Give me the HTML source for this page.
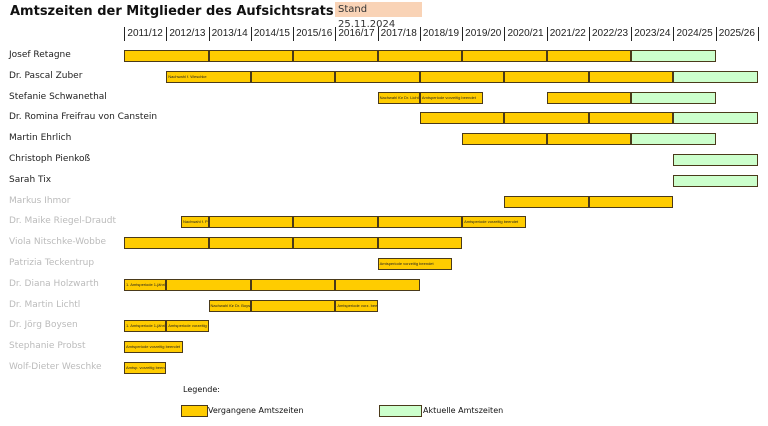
<!DOCTYPE html>
<html><head><meta charset="utf-8">
<style>
body{margin:0;background:#fff;font-family:"Liberation Sans",Verdana,sans-serif;}
#root{position:relative;width:768px;height:426px;overflow:hidden;}
.title{position:absolute;left:10px;top:4px;font-size:13px;font-weight:bold;color:#111;font-family:"DejaVu Sans","Liberation Sans",sans-serif;}
.stand{position:absolute;left:335px;top:2px;width:87px;height:15px;background:#f9d3b6;font-size:10px;line-height:15px;padding-left:3px;box-sizing:border-box;color:#333;font-family:"DejaVu Sans",sans-serif;}
.yr{position:absolute;top:27px;font-size:10px;color:#222;text-align:center;height:14px;line-height:14px;}
.sep{position:absolute;top:27px;width:1px;height:14px;background:#222;}
.name{position:absolute;left:9px;font-size:9px;font-family:"DejaVu Sans",sans-serif;white-space:nowrap;}
.seg{position:absolute;height:10px;border:1px solid #4a3a1a;box-sizing:content-box;font-size:4px;line-height:10px;overflow:hidden;white-space:nowrap;color:#222;padding-left:1px;}
.leg{position:absolute;font-size:8px;font-family:"DejaVu Sans",sans-serif;color:#111;}
</style></head><body>
<div id="root">
<div class="title">Amtszeiten der Mitglieder des Aufsichtsrats</div>
<div class="stand">Stand 25.11.2024</div>
<div class="leg" style="left:183px;top:385px">Legende:</div>
<div class="seg" style="left:181px;top:405px;width:24px;background:#ffcc00"></div>
<div class="leg" style="left:208px;top:406px">Vergangene Amtszeiten</div>
<div class="seg" style="left:379px;top:405px;width:40px;background:#ccffcc"></div>
<div class="leg" style="left:423px;top:406px">Aktuelle Amtszeiten</div>
</div>
<script>
const years=["2011/12","2012/13","2013/14","2014/15","2015/16","2016/17","2017/18","2018/19","2019/20","2020/21","2021/22","2022/23","2023/24","2024/25","2025/26"];
const names=["Josef Retagne","Dr. Pascal Zuber","Stefanie Schwanethal","Dr. Romina Freifrau von Canstein","Martin Ehrlich","Christoph Pienkoß","Sarah Tix","Markus Ihmor","Dr. Maike Riegel-Draudt","Viola Nitschke-Wobbe","Patrizia Teckentrup","Dr. Diana Holzwarth","Dr. Martin Lichtl","Dr. Jörg Boysen","Stephanie Probst","Wolf-Dieter Weschke"];
const active=[1,1,1,1,1,1,1,0,0,0,0,0,0,0,0,0];
// segments: [row, start, end, type(0 past,1 current), label]
const segments=[
[0,0,2,0,""],[0,2,4,0,""],[0,4,6,0,""],[0,6,8,0,""],[0,8,10,0,""],[0,10,12,0,""],[0,12,14,1,""],
[1,1,3,0,"Nachwahl f. Weschke"],[1,3,5,0,""],[1,5,7,0,""],[1,7,9,0,""],[1,9,11,0,""],[1,11,13,0,""],[1,13,15,1,""],
[2,6,7,0,"Nachwahl für Dr. Lichtl"],[2,7,8.5,0,"Amtsperiode vorzeitig beendet"],[2,10,12,0,""],[2,12,14,1,""],
[3,7,9,0,""],[3,9,11,0,""],[3,11,13,0,""],[3,13,15,1,""],
[4,8,10,0,""],[4,10,12,0,""],[4,12,14,1,""],
[5,13,15,1,""],[6,13,15,1,""],
[7,9,11,0,""],[7,11,13,0,""],
[8,1.35,2,0,"Nachwahl f. P"],[8,2,4,0,""],[8,4,6,0,""],[8,6,8,0,""],[8,8,9.5,0,"Amtsperiode vorzeitig beendet"],
[9,0,2,0,""],[9,2,4,0,""],[9,4,6,0,""],[9,6,8,0,""],
[10,6,7.75,0,"Amtsperiode vorzeitig beendet"],
[11,0,1,0,"1. Amtsperiode 1-jährig"],[11,1,3,0,""],[11,3,5,0,""],[11,5,7,0,""],
[12,2,3,0,"Nachwahl für Dr. Boysen"],[12,3,5,0,""],[12,5,6,0,"Amtsperiode vorz. beendet"],
[13,0,1,0,"1. Amtsperiode 1-jährig"],[13,1,2,0,"Amtsperiode vorzeitig beendet"],
[14,0,1.4,0,"Amtsperiode vorzeitig beendet"],
[15,0,1,0,"Amtsp. vorzeitig beendet"]
];
const X0=124,X1=758,Y0=56,DY=20.8;
const xs=v=>X0+v*(X1-X0)/years.length;
const ys=r=>Y0+r*DY;
const root=document.getElementById('root');
years.forEach((y,i)=>{
  const d=document.createElement('div');d.className='yr';
  d.style.left=xs(i)+'px';d.style.width=(xs(i+1)-xs(i))+'px';d.textContent=y;
  
  
  root.appendChild(d);
});
for(let i=0;i<=years.length;i++){
  const s=document.createElement('div');s.className='sep';s.style.left=xs(i)+'px';
  
  
  root.appendChild(s);
}
names.forEach((n,i)=>{
  const d=document.createElement('div');d.className='name';
  d.style.top=(ys(i)-6)+'px';d.style.color=active[i]?'#222':'#bbb';d.textContent=n;
  
  
  root.appendChild(d);
});
segments.forEach(s=>{
  const d=document.createElement('div');d.className='seg';
  const x=xs(s[1]),w=xs(s[2])-x;
  d.style.left=x+'px';d.style.width=(w-3)+'px';d.style.top=(ys(s[0])-6)+'px';
  d.style.background=s[3]?'#ccffcc':'#ffcc00';d.textContent=s[4];
  
  
  root.appendChild(d);
});
</script>
</body></html>
